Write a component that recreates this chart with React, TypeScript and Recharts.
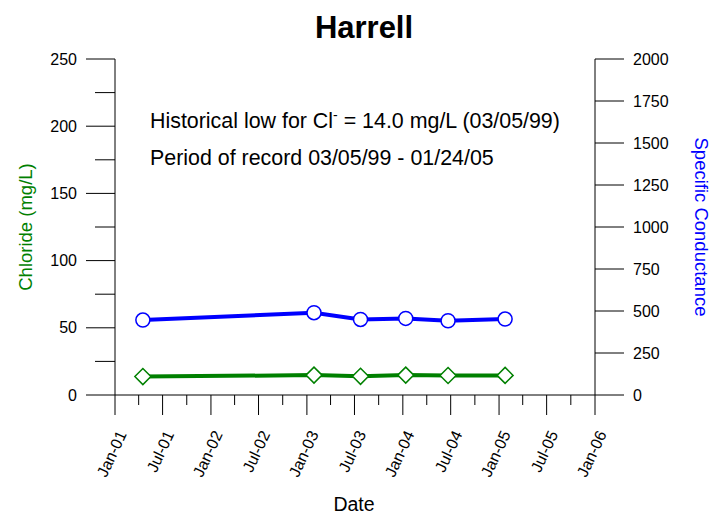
import React from 'react';
import { ComposedChart, Line, XAxis, YAxis, Customized } from 'recharts';

// sample dates
const sampleDates = ['2001-04-17', '2003-01-28', '2003-07-24', '2004-01-12', '2004-06-21', '2005-01-24'];
// chloride (mg/L), left axis
const chloride = [13.7, 14.8, 13.9, 14.8, 14.5, 14.6];
// specific conductance, right axis
const conductance = [446, 490, 450, 456, 442, 452];

const majorDates = [
  '2001-01-01', '2001-07-01', '2002-01-01', '2002-07-01', '2003-01-01', '2003-07-01',
  '2004-01-01', '2004-07-01', '2005-01-01', '2005-07-01', '2006-01-01',
];
const minorDates = [
  '2001-04-01', '2001-10-01', '2002-04-01', '2002-10-01', '2003-04-01',
  '2003-10-01', '2004-04-01', '2004-10-01', '2005-04-01', '2005-10-01',
];
const chlorideTicks = [0, 25, 50, 75, 100, 125, 150, 175, 200, 225, 250];
const conductanceTicks = [0, 250, 500, 750, 1000, 1250, 1500, 1750, 2000];
const monthNames = ['Jan', 'Feb', 'Mar', 'Apr', 'May', 'Jun', 'Jul', 'Aug', 'Sep', 'Oct', 'Nov', 'Dec'];

const data = sampleDates.map((d, i) => ({
  t: Date.parse(d),
  cl: chloride[i],
  sc: conductance[i],
}));

const majorTs = majorDates.map((d) => Date.parse(d));
const xTicks = [...majorTs, ...minorDates.map((d) => Date.parse(d))].sort((a, b) => a - b);

const FONT = '"Liberation Sans", Arial, sans-serif';
const TICK_FS = 16;

const fmtDate = (ts: number) => {
  const d = new Date(ts);
  return `${monthNames[d.getUTCMonth()]}-${String(d.getUTCFullYear() % 100).padStart(2, '0')}`;
};

const DateTick = (props: any) => {
  const { x, y, payload } = props;
  const major = majorTs.includes(payload.value);
  const ax = x + 12;
  const ay = y + 39;
  return (
    <g>
      <line x1={x} y1={y} x2={x} y2={y + (major ? 20 : 10)} stroke="#000" />
      {major && (
        <text x={ax} y={ay} textAnchor="end" fontSize={TICK_FS} fontFamily={FONT} fill="#000"
          transform={`rotate(-65 ${ax} ${ay})`}>
          {fmtDate(payload.value)}
        </text>
      )}
    </g>
  );
};

const LeftTick = (props: any) => {
  const { x, y, payload } = props;
  const major = payload.value % 50 === 0;
  return (
    <g>
      <line x1={x - (major ? 29 : 20)} y1={y} x2={x} y2={y} stroke="#000" />
      {major && (
        <text x={x - 38} y={y} textAnchor="end" dominantBaseline="central" fontSize={TICK_FS} fontFamily={FONT} fill="#000">
          {payload.value}
        </text>
      )}
    </g>
  );
};

const RightTick = (props: any) => {
  const { x, y, payload } = props;
  return (
    <g>
      <line x1={x} y1={y} x2={x + 29} y2={y} stroke="#000" />
      <text x={x + 38} y={y} textAnchor="start" dominantBaseline="central" fontSize={TICK_FS} fontFamily={FONT} fill="#000">
        {payload.value}
      </text>
    </g>
  );
};

const Diamond = (props: any) => {
  const { cx, cy, index } = props;
  const s = 8;
  return (
    <path key={`d-${index}`} d={`M${cx},${cy - s}L${cx + s},${cy}L${cx},${cy + s}L${cx - s},${cy}Z`}
      fill="#fff" stroke="#008000" strokeWidth={1.5} />
  );
};

const Texts = () => (
  <g fontFamily={FONT}>
    <text x={364} y={38} textAnchor="middle" fontSize={31} fontWeight="bold" fill="#000">Harrell</text>
    <text x={150} y={128} fontSize={21.4} fill="#000">
      Historical low for Cl
      <tspan dy={-8} fontSize={14}>-</tspan>
      <tspan dy={8}> = 14.0 mg/L (03/05/99)</tspan>
    </text>
    <text x={150} y={165} fontSize={21.4} fill="#000">Period of record 03/05/99 - 01/24/05</text>
    <text x={25.5} y={227} textAnchor="middle" dominantBaseline="central" fontSize={18.5} fill="#008000"
      transform="rotate(-90 25.5 227)">Chloride (mg/L)</text>
    <text x={701} y={227} textAnchor="middle" dominantBaseline="central" fontSize={18.5} fill="#0000ff"
      transform="rotate(90 701 227)">Specific Conductance</text>
    <text x={354} y={511} textAnchor="middle" fontSize={19.5} fill="#000">Date</text>
  </g>
);

export default function App() {
  return (
    <div style={{ position: 'absolute', left: 0, top: 0, width: 718, height: 516, background: '#fff' }}>
      <ComposedChart width={718} height={516} data={data}
        margin={{ top: 59, right: 0, bottom: 61, left: 0 }}>
        <XAxis dataKey="t" type="number" domain={[majorTs[0], majorTs[majorTs.length - 1]]}
          ticks={xTicks} interval={0} tickSize={0} tickMargin={0} tickLine={false}
          tick={<DateTick />} height={60} axisLine={{ stroke: '#000' }} />
        <YAxis yAxisId="left" orientation="left" width={115} domain={[0, 250]} ticks={chlorideTicks}
          interval={0} tickSize={0} tickMargin={0} tickLine={false} tick={<LeftTick />}
          axisLine={{ stroke: '#000' }} />
        <YAxis yAxisId="right" orientation="right" width={123} domain={[0, 2000]} ticks={conductanceTicks}
          interval={0} tickSize={0} tickMargin={0} tickLine={false} tick={<RightTick />}
          axisLine={{ stroke: '#000' }} />
        <Line yAxisId="left" dataKey="cl" type="linear" stroke="#008000" strokeWidth={4}
          dot={Diamond} activeDot={false} isAnimationActive={false} />
        <Line yAxisId="right" dataKey="sc" type="linear" stroke="#0000ff" strokeWidth={4}
          dot={{ r: 7, fill: '#fff', stroke: '#0000ff', strokeWidth: 1.5 }} activeDot={false}
          isAnimationActive={false} />
        <Customized component={Texts} />
      </ComposedChart>
    </div>
  );
}
